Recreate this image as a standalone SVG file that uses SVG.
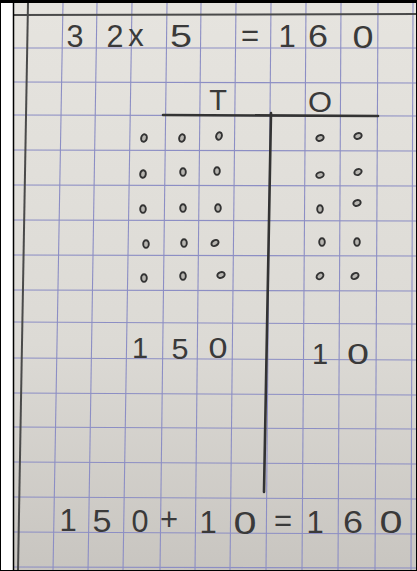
<svg xmlns="http://www.w3.org/2000/svg" xmlns:xlink="http://www.w3.org/1999/xlink" width="417" height="571" viewBox="0 0 417 571">
<defs>
<linearGradient id="paper" x1="0" y1="0" x2="0" y2="1">
<stop offset="0" stop-color="#e6e4df"/>
<stop offset="0.6" stop-color="#dcdad5"/>
<stop offset="1" stop-color="#c8c5c0"/>
</linearGradient>
<ellipse id="dot" cx="0" cy="0" rx="2.8" ry="3.8" fill="#b8b6b1" stroke="#333" stroke-width="1.9"/>
</defs>
<style>
.grid{stroke:#8c8ec4;stroke-width:1.1;fill:none}
.dark{stroke:#4a4a4a;stroke-width:2;fill:none}
.pen{stroke:#333;stroke-width:2.6;fill:none;stroke-linecap:round}
.hw{font-family:"Liberation Sans",Arial,sans-serif;fill:#3a3a3a;text-anchor:middle}
.big{font-size:31px}
.mid{font-size:29px}
</style>
<rect x="0" y="0" width="417" height="571" fill="#ffffff"/>
<rect x="14" y="3" width="403" height="568" fill="url(#paper)"/>
<g id="grid">
<line class="grid" x1="63" y1="3" x2="53" y2="571"/>
<line class="grid" x1="97" y1="3" x2="88" y2="571"/>
<line class="grid" x1="132" y1="3" x2="123" y2="571"/>
<line class="grid" x1="167" y1="3" x2="160" y2="571"/>
<line class="grid" x1="201" y1="3" x2="195" y2="571"/>
<line class="grid" x1="236" y1="3" x2="230" y2="571"/>
<line class="grid" x1="271" y1="3" x2="266" y2="571"/>
<line class="grid" x1="306" y1="3" x2="302" y2="571"/>
<line class="grid" x1="341" y1="3" x2="338" y2="571"/>
<line class="grid" x1="378" y1="3" x2="375" y2="571"/>
<line class="grid" x1="413" y1="3" x2="411" y2="571"/>
<line class="grid" x1="14" y1="48" x2="417" y2="48"/>
<line class="grid" x1="14" y1="82" x2="417" y2="83"/>
<line class="grid" x1="14" y1="115" x2="417" y2="116"/>
<line class="grid" x1="14" y1="150" x2="417" y2="151"/>
<line class="grid" x1="14" y1="185" x2="417" y2="186"/>
<line class="grid" x1="14" y1="220" x2="417" y2="221"/>
<line class="grid" x1="14" y1="255" x2="417" y2="256"/>
<line class="grid" x1="14" y1="290" x2="417" y2="291"/>
<line class="grid" x1="14" y1="322" x2="417" y2="324"/>
<line class="grid" x1="14" y1="358" x2="417" y2="360"/>
<line class="grid" x1="14" y1="393" x2="417" y2="395"/>
<line class="grid" x1="14" y1="427" x2="417" y2="429"/>
<line class="grid" x1="14" y1="462" x2="417" y2="464"/>
<line class="grid" x1="14" y1="497" x2="417" y2="499"/>
<line class="grid" x1="14" y1="532" x2="417" y2="534"/>
<line class="grid" x1="14" y1="567" x2="417" y2="568"/>
<line class="dark" x1="14" y1="15" x2="417" y2="14"/>
<line class="dark" x1="28" y1="3" x2="18" y2="571"/>
</g>
<g id="frame">
<rect x="0" y="0" width="417" height="3" fill="#000"/>
<line x1="13.5" y1="0" x2="13.5" y2="571" stroke="#000" stroke-width="1.5"/>
<rect x="0.5" y="0.5" width="416" height="570" fill="none" stroke="#000" stroke-width="1"/>
</g>
<g id="equation-top">
<text class="hw big" x="75" y="47" textLength="17" lengthAdjust="spacingAndGlyphs">3</text>
<text class="hw big" x="115" y="47" textLength="17" lengthAdjust="spacingAndGlyphs">2</text>
<text class="hw big" x="136" y="46">x</text>
<text class="hw big" x="181" y="47" textLength="22" lengthAdjust="spacingAndGlyphs">5</text>
<text class="hw big" x="250" y="46">=</text>
<text class="hw big" x="287" y="47">1</text>
<text class="hw big" x="318" y="47" textLength="20" lengthAdjust="spacingAndGlyphs">6</text>
<text class="hw big" x="363" y="48" textLength="21" lengthAdjust="spacingAndGlyphs">0</text>
</g>
<g id="place-value-chart">
<line class="pen" x1="163" y1="115" x2="378" y2="116"/>
<line class="pen" x1="271" y1="113" x2="264" y2="492"/>
<text class="hw mid" x="218" y="110">T</text>
<text class="hw mid" x="320" y="112" textLength="24" lengthAdjust="spacingAndGlyphs">O</text>
</g>
<g id="tens-dots">
<use xlink:href="#dot" transform="translate(144,138) rotate(15)"/>
<use xlink:href="#dot" transform="translate(182,138) rotate(15)"/>
<use xlink:href="#dot" transform="translate(219,136) rotate(20)"/>
<use xlink:href="#dot" transform="translate(143,174) rotate(10)"/>
<use xlink:href="#dot" transform="translate(183,172)"/>
<use xlink:href="#dot" transform="translate(217,171)"/>
<use xlink:href="#dot" transform="translate(143,209)"/>
<use xlink:href="#dot" transform="translate(183,208)"/>
<use xlink:href="#dot" transform="translate(218,208)"/>
<use xlink:href="#dot" transform="translate(146,244)"/>
<use xlink:href="#dot" transform="translate(184,243)"/>
<use xlink:href="#dot" transform="translate(215,243) rotate(60)"/>
<use xlink:href="#dot" transform="translate(144,278)"/>
<use xlink:href="#dot" transform="translate(183,276)"/>
<use xlink:href="#dot" transform="translate(221,275) rotate(70)"/>
</g>
<g id="ones-dots">
<use xlink:href="#dot" transform="translate(320,138) rotate(70)"/>
<use xlink:href="#dot" transform="translate(358,136) rotate(70)"/>
<use xlink:href="#dot" transform="translate(320,175) rotate(75)"/>
<use xlink:href="#dot" transform="translate(358,172) rotate(65)"/>
<use xlink:href="#dot" transform="translate(320,209)"/>
<use xlink:href="#dot" transform="translate(357,203) rotate(70)"/>
<use xlink:href="#dot" transform="translate(322,242)"/>
<use xlink:href="#dot" transform="translate(357,242)"/>
<use xlink:href="#dot" transform="translate(320,276) rotate(50)"/>
<use xlink:href="#dot" transform="translate(355,276) rotate(60)"/>
</g>
<g id="partial-products">
<text class="hw mid" x="140" y="358">1</text>
<text class="hw mid" x="180" y="359" textLength="17" lengthAdjust="spacingAndGlyphs">5</text>
<text class="hw mid" x="218" y="358" textLength="19" lengthAdjust="spacingAndGlyphs">0</text>
<text class="hw mid" x="320" y="364">1</text>
<text class="hw mid" x="358" y="364" textLength="22" lengthAdjust="spacingAndGlyphs">0</text>
</g>
<g id="equation-bottom">
<text class="hw big" x="68" y="531">1</text>
<text class="hw big" x="102" y="532" textLength="19" lengthAdjust="spacingAndGlyphs">5</text>
<text class="hw big" x="140" y="532" textLength="17" lengthAdjust="spacingAndGlyphs">0</text>
<text class="hw big" x="169" y="530">+</text>
<text class="hw big" x="208" y="533">1</text>
<text class="hw big" x="245" y="534" textLength="23" lengthAdjust="spacingAndGlyphs">0</text>
<text class="hw big" x="283" y="531">=</text>
<text class="hw big" x="315" y="533">1</text>
<text class="hw big" x="353" y="533" textLength="20" lengthAdjust="spacingAndGlyphs">6</text>
<text class="hw big" x="391" y="533" textLength="23" lengthAdjust="spacingAndGlyphs">0</text>
</g>
</svg>
